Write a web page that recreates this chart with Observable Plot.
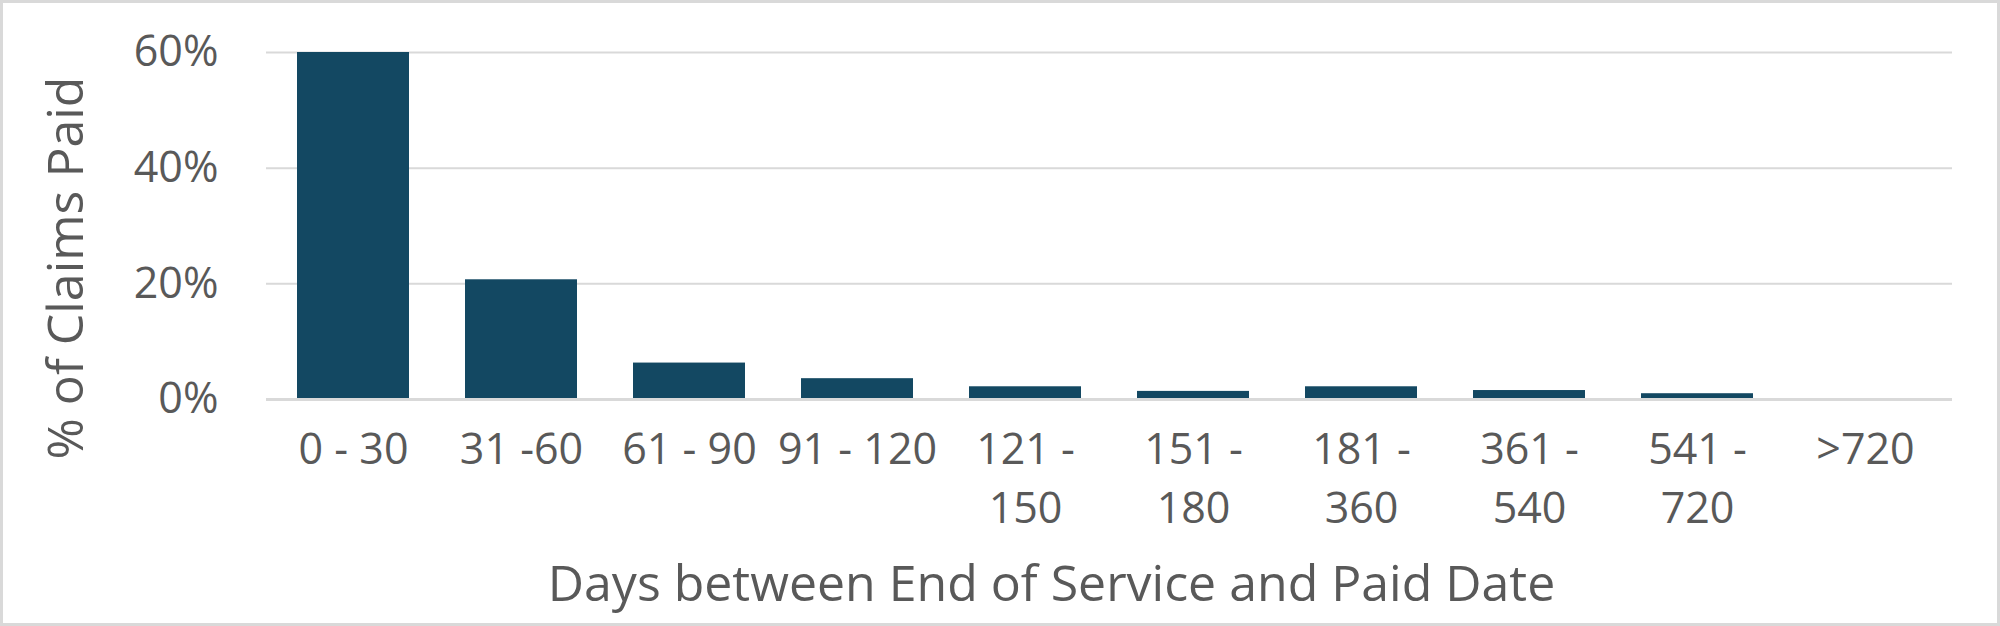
<!DOCTYPE html>
<html>
<head>
<meta charset="utf-8">
<script src="https://cdn.jsdelivr.net/npm/d3@7"></script>
<script src="https://cdn.jsdelivr.net/npm/@observablehq/plot@0.6"></script>
<style>
  html, body { margin: 0; padding: 0; background: #fff; }
  #chart { position: relative; width: 2000px; height: 626px; }
  #chart svg { display: block; }
  #border { position: absolute; left: 0; top: 0; width: 2000px; height: 626px; box-sizing: border-box; border: 3px solid #d9d9d9; pointer-events: none; }
</style>
</head>
<body>
<div id="chart"><div id="border"></div></div>
<script>
const categories = ["0 - 30", "31 -60", "61 - 90", "91 - 120", "121 - 150", "151 - 180", "181 - 360", "361 - 540", "541 - 720", ">720"];
const tickLabels = ["0 - 30", "31 -60", "61 - 90", "91 - 120", "121 -\n150", "151 -\n180", "181 -\n360", "361 -\n540", "541 -\n720", ">720"];
const shares = [0.600, 0.207, 0.063, 0.036, 0.022, 0.014, 0.022, 0.0155, 0.010, 0.0];
const yTicks = [0, 0.2, 0.4, 0.6];
const yTitle = "% of Claims Paid";
const xTitle = "Days between End of Service and Paid Date";

const data = categories.map((c, i) => ({cat: c, value: shares[i]}));
const labelOf = new Map(categories.map((c, i) => [c, tickLabels[i]]));

const font = "'Open Sans', 'Noto Sans', sans-serif";
const textColor = "#595959";

const chart = Plot.plot({
  width: 2000,
  height: 626,
  marginLeft: 266,
  marginRight: 48,
  marginTop: 52,
  marginBottom: 227,
  style: {fontFamily: font, color: textColor, background: "transparent"},
  x: {type: "band", domain: categories, paddingInner: 0.335, paddingOuter: 0.1675, label: null},
  y: {domain: [0, 0.6], label: null},
  marks: [
    Plot.gridY(yTicks.filter(d => d > 0), {stroke: "#d9d9d9", strokeOpacity: 1, strokeWidth: 2}),
    Plot.barY(data, {x: "cat", y: "value", fill: "#134862"}),
    Plot.ruleY([0], {stroke: "#d9d9d9", strokeWidth: 3}),
    Plot.axisY({ticks: yTicks, tickSize: 0, tickPadding: 48, tickFormat: d3.format(".0%"), fontSize: 43, fill: textColor, label: null}),
    Plot.axisX({tickSize: 0, tickPadding: 23, tickFormat: d => labelOf.get(d), fontSize: 43, lineHeight: 1.37, fill: textColor, label: null}),
    Plot.text([yTitle], {frameAnchor: "left", textAnchor: "middle", lineAnchor: "middle", rotate: -90, dx: -200, dy: 42, fontSize: 50, fill: textColor}),
    Plot.text([xTitle], {frameAnchor: "bottom", textAnchor: "middle", lineAnchor: "middle", dx: -58, dy: 185, fontSize: 50, fill: textColor})
  ]
});
document.getElementById("chart").prepend(chart);
</script>
</body>
</html>
